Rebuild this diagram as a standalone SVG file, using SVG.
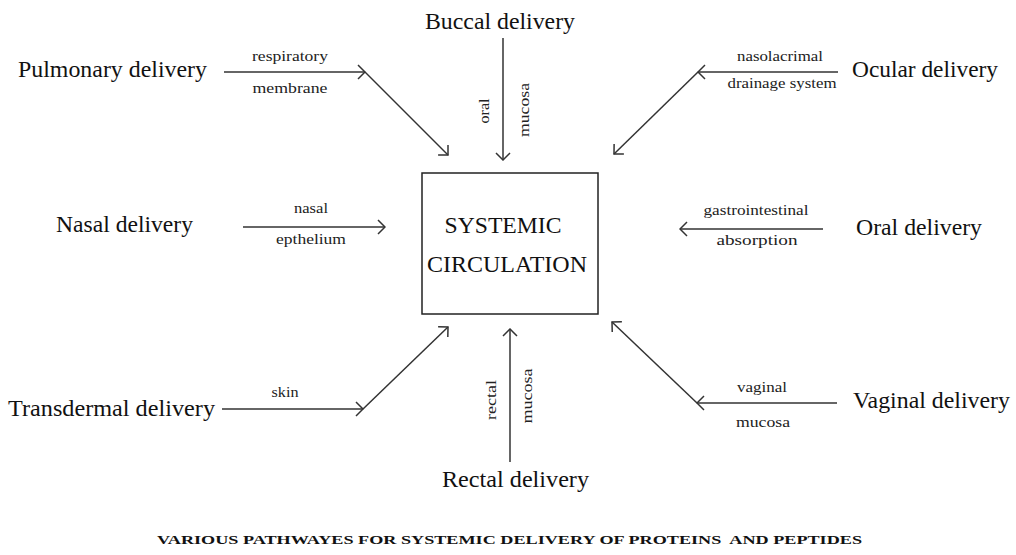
<svg xmlns="http://www.w3.org/2000/svg" width="1016" height="555" viewBox="0 0 1016 555">
<style>
.big{font-family:"Liberation Serif","Times New Roman",serif;font-size:23px;fill:#111}
.sm{font-family:"Liberation Serif","Times New Roman",serif;font-size:15px;fill:#222;text-anchor:middle}
.ln{stroke:#333;stroke-width:1.5;fill:none}
.cap{font-family:"Liberation Serif","Times New Roman",serif;font-size:13.5px;font-weight:bold;fill:#111;white-space:pre}
</style>
<defs>
<marker id="ah" viewBox="0 0 12 16" refX="11" refY="8" markerWidth="12" markerHeight="16" markerUnits="userSpaceOnUse" orient="auto">
<path d="M4,1 L11,8 L4,15" fill="none" stroke="#333" stroke-width="1.5"/>
</marker>
</defs>
<rect width="1016" height="555" fill="#fff"/>
<g id="systemic">
<rect x="422" y="173" width="176" height="141" fill="none" stroke="#222" stroke-width="1.5"/>
<text class="big" x="503" y="233" text-anchor="middle" textLength="117" lengthAdjust="spacingAndGlyphs">SYSTEMIC</text>
<text class="big" x="507" y="272" text-anchor="middle" textLength="160" lengthAdjust="spacingAndGlyphs">CIRCULATION</text>
</g>
<g id="pulmonary"><text class="big" x="18" y="77" textLength="189" lengthAdjust="spacingAndGlyphs">Pulmonary delivery</text></g>
<g id="buccal"><text class="big" x="425" y="29" textLength="150" lengthAdjust="spacingAndGlyphs">Buccal delivery</text></g>
<g id="ocular"><text class="big" x="852" y="77" textLength="146" lengthAdjust="spacingAndGlyphs">Ocular delivery</text></g>
<g id="nasal"><text class="big" x="56" y="232" textLength="137" lengthAdjust="spacingAndGlyphs">Nasal delivery</text></g>
<g id="oral"><text class="big" x="856" y="235" textLength="126" lengthAdjust="spacingAndGlyphs">Oral delivery</text></g>
<g id="transdermal"><text class="big" x="8" y="416" textLength="207" lengthAdjust="spacingAndGlyphs">Transdermal delivery</text></g>
<g id="vaginal"><text class="big" x="853" y="408" textLength="157" lengthAdjust="spacingAndGlyphs">Vaginal delivery</text></g>
<g id="rectal"><text class="big" x="442" y="487" textLength="147" lengthAdjust="spacingAndGlyphs">Rectal delivery</text></g>
<g id="connectors">
<polyline class="ln" points="224,72 365,72" marker-end="url(#ah)"/>
<polyline class="ln" points="365,72 448,155" marker-end="url(#ah)"/>
<polyline class="ln" points="503,38 503,160" marker-end="url(#ah)"/>
<polyline class="ln" points="838,72 698,72" marker-end="url(#ah)"/>
<polyline class="ln" points="698,72 614,154" marker-end="url(#ah)"/>
<polyline class="ln" points="243,227 385,227" marker-end="url(#ah)"/>
<polyline class="ln" points="823,229 680,229" marker-end="url(#ah)"/>
<polyline class="ln" points="222,409 363,409" marker-end="url(#ah)"/>
<polyline class="ln" points="363,409 448,327" marker-end="url(#ah)"/>
<polyline class="ln" points="510,462 510,329" marker-end="url(#ah)"/>
<polyline class="ln" points="837,403 697,403" marker-end="url(#ah)"/>
<polyline class="ln" points="697,403 612,322" marker-end="url(#ah)"/>
<text class="sm" x="290" y="61" textLength="76" lengthAdjust="spacingAndGlyphs">respiratory</text>
<text class="sm" x="290" y="93" textLength="75" lengthAdjust="spacingAndGlyphs">membrane</text>
<text class="sm" x="780" y="61" textLength="86" lengthAdjust="spacingAndGlyphs">nasolacrimal</text>
<text class="sm" x="782" y="88" textLength="109" lengthAdjust="spacingAndGlyphs">drainage system</text>
<text class="sm" x="311" y="213" textLength="34" lengthAdjust="spacingAndGlyphs">nasal</text>
<text class="sm" x="311" y="244" textLength="70" lengthAdjust="spacingAndGlyphs">epthelium</text>
<text class="sm" x="756" y="215" textLength="105" lengthAdjust="spacingAndGlyphs">gastrointestinal</text>
<text class="sm" x="757" y="245" textLength="81" lengthAdjust="spacingAndGlyphs">absorption</text>
<text class="sm" x="285" y="397" textLength="27" lengthAdjust="spacingAndGlyphs">skin</text>
<text class="sm" x="762" y="392" textLength="50" lengthAdjust="spacingAndGlyphs">vaginal</text>
<text class="sm" x="763" y="427" textLength="54" lengthAdjust="spacingAndGlyphs">mucosa</text>
<text class="sm" transform="translate(489,111) rotate(-90)" textLength="25" lengthAdjust="spacingAndGlyphs">oral</text>
<text class="sm" transform="translate(529,110) rotate(-90)" textLength="54" lengthAdjust="spacingAndGlyphs">mucosa</text>
<text class="sm" transform="translate(496,400) rotate(-90)" textLength="40" lengthAdjust="spacingAndGlyphs">rectal</text>
<text class="sm" transform="translate(532,396) rotate(-90)" textLength="55" lengthAdjust="spacingAndGlyphs">mucosa</text>
</g>
<text class="cap" x="157" y="544" textLength="705" lengthAdjust="spacingAndGlyphs">VARIOUS PATHWAYES FOR SYSTEMIC DELIVERY OF PROTEINS  AND PEPTIDES</text>
</svg>
